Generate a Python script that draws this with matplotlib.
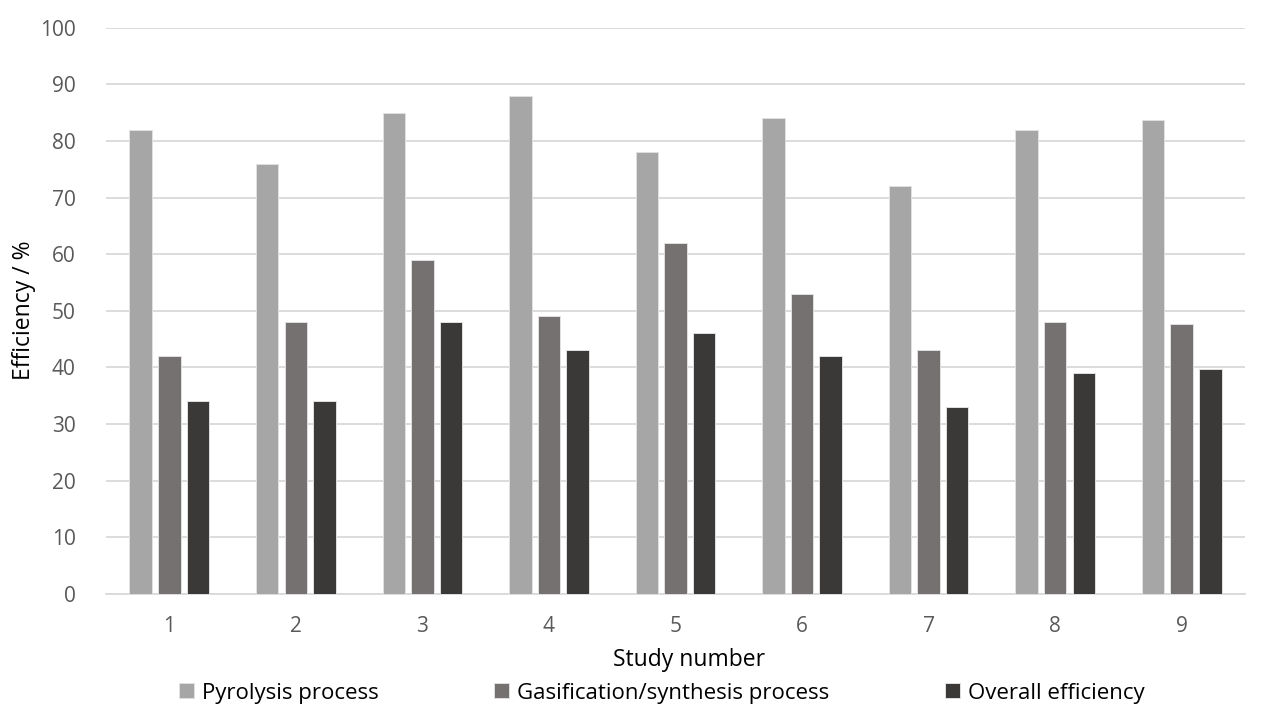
import matplotlib
matplotlib.use("Agg")
import matplotlib.pyplot as plt
import numpy as np

studies = ["1", "2", "3", "4", "5", "6", "7", "8", "9"]
pyrolysis = [82, 76, 85, 88, 78, 84, 72, 82, 83.7]
gasification = [42, 48, 59, 49, 62, 53, 43, 48, 47.6]
overall = [34, 34, 48, 43, 46, 42, 33, 39, 39.7]
series_names = ["Pyrolysis process", "Gasification/synthesis process", "Overall efficiency"]
colors = ["#A6A6A6", "#767171", "#3B3838"]

plt.rcParams['font.family'] = ['Open Sans', 'DejaVu Sans']

fig = plt.figure(figsize=(12.61, 7.09), dpi=100)
ax = fig.add_axes([106/1261, 1-593.7/709, (1245-106)/1261, (593.7-27.7)/709])

x = np.arange(len(studies))
w = 0.178
off = 0.226
for i, (vals, name, c) in enumerate(zip([pyrolysis, gasification, overall], series_names, colors)):
    ax.bar(x + (i-1)*off, vals, width=w, color=c, label=name,
           edgecolor='#E0E0E0', linewidth=0.7, zorder=3)

ax.set_xlim(-0.5, len(studies)-0.5)
ax.set_ylim(0, 100)
ax.set_yticks(range(0, 101, 10))
ax.set_xticks(x)
ax.set_xticklabels(studies)
ax.yaxis.grid(True, color='#D9D9D9', linewidth=1.3, zorder=0)
ax.set_axisbelow(True)
for s in ['top', 'right', 'left']:
    ax.spines[s].set_visible(False)
ax.spines['bottom'].set_color('#D9D9D9')
ax.spines['bottom'].set_linewidth(1.3)
ax.tick_params(axis='both', length=0, labelsize=15, colors='#595959')
ax.tick_params(axis='x', pad=16)
ax.tick_params(axis='y', pad=22)

ax.set_xlabel("Study number", fontsize=16.5, color='black')
ax.xaxis.set_label_coords((689-106)/(1245-106), -(648-593.7)/(593.7-27.7))
ax.set_ylabel("Efficiency / %", fontsize=16.5, color='black')
ax.yaxis.set_label_coords(-(106-36)/(1245-106), (593.7-310)/(593.7-27.7))

fig.legend(loc='center', bbox_to_anchor=(662/1261, 1-693/709), ncol=3, frameon=False,
           fontsize=16, handlelength=0.68, handleheight=0.68, handletextpad=0.36,
           columnspacing=5.2, borderpad=0)

fig.savefig("out.png", dpi=100)
